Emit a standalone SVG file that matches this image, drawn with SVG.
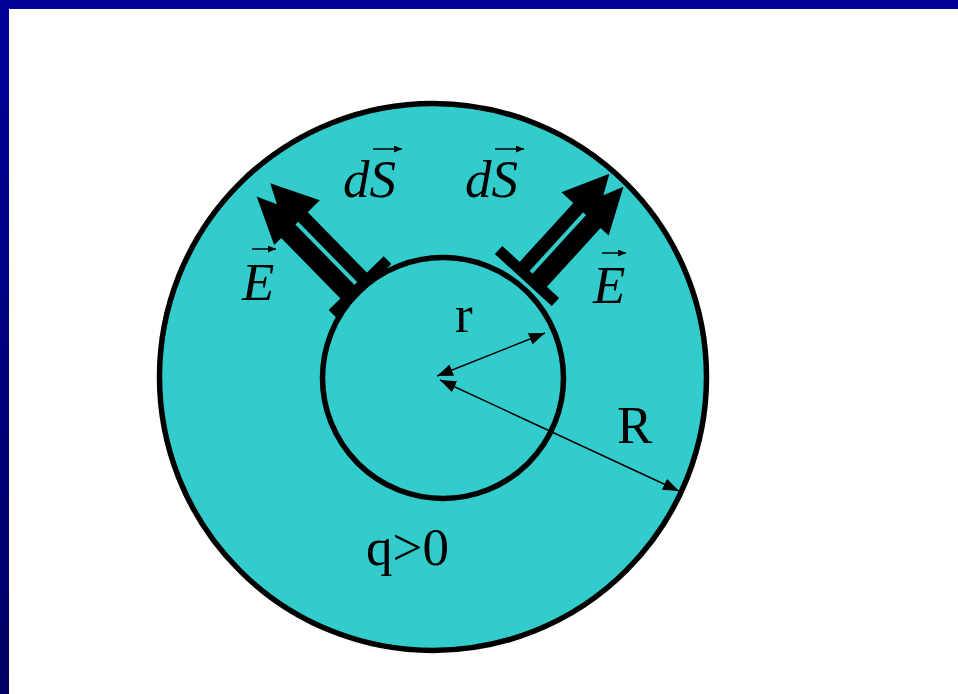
<svg xmlns="http://www.w3.org/2000/svg" width="958" height="694" viewBox="0 0 958 694">
<style>
.fill{fill:#33cccc;stroke:#000;stroke-width:5.5}
.blk{fill:#000;stroke:none}
.lbl{font-family:"Liberation Serif","Times New Roman",serif;font-size:53px;fill:#000}
.it{font-style:italic}
.rad{stroke:#000;stroke-width:1.5;fill:none;marker-start:url(#ah);marker-end:url(#ah)}
.vec{stroke:#000;stroke-width:1.5}
</style>
<defs>
<linearGradient id="lg" x1="0" y1="0" x2="0" y2="1">
<stop offset="0" stop-color="#000099"/>
<stop offset="1" stop-color="#000066"/>
</linearGradient>
<marker id="ah" markerUnits="userSpaceOnUse" markerWidth="18" markerHeight="12" refX="16" refY="6" orient="auto-start-reverse" viewBox="0 0 18 12">
<path d="M0,0 L16,6 L0,12 Z" fill="#000"/>
</marker>
<marker id="vh" markerUnits="userSpaceOnUse" markerWidth="9" markerHeight="7" refX="8" refY="3.5" orient="auto" viewBox="0 0 9 7">
<path d="M0,0 L8,3.5 L0,7 Z" fill="#000"/>
</marker>
</defs>
<rect x="0" y="0" width="958" height="694" fill="#fff"/>
<rect x="0" y="0" width="958" height="9" fill="#000099"/>
<rect x="0" y="0" width="9" height="694" fill="url(#lg)"/>

<g id="outer-sphere">
<circle class="fill" cx="433" cy="377" r="273.5"/>
</g>
<g id="gauss-surface">
<circle class="fill" cx="443" cy="378" r="120.5"/>
</g>

<g id="connectors">
<line class="rad" x1="437" y1="376" x2="545" y2="333"/>
<line class="rad" x1="440" y1="380" x2="679" y2="491"/>
</g>

<g id="arrow-left" transform="translate(360,287) rotate(-134.4) scale(1,-1)">
<rect class="blk" x="-5.5" y="-38.5" width="11" height="77"/>
<rect class="blk" x="0" y="-15" width="92" height="13.5"/>
<rect class="blk" x="0" y="2.5" width="92" height="19.5"/>
<polygon class="blk" points="90,-32 137,-8.5 90,15"/>
<polygon class="blk" points="90,-11 137,10.5 90,32"/>
</g>
<g id="arrow-right" transform="translate(527,276) rotate(-47.6)">
<rect class="blk" x="-5.5" y="-38.5" width="11" height="77"/>
<rect class="blk" x="0" y="-15" width="88" height="13.5"/>
<rect class="blk" x="0" y="2.5" width="88" height="19.5"/>
<polygon class="blk" points="85,-31 131,-8 85,15"/>
<polygon class="blk" points="85,-10 131,11 85,33"/>
</g>

<g id="labels">
<text class="lbl it" x="343" y="197">dS</text>
<line class="vec" x1="373" y1="149" x2="402" y2="149" marker-end="url(#vh)"/>
<text class="lbl it" x="465" y="197">dS</text>
<line class="vec" x1="495" y1="149" x2="524" y2="149" marker-end="url(#vh)"/>
<text class="lbl it" x="242" y="300">E</text>
<line class="vec" x1="252" y1="249" x2="276" y2="249" marker-end="url(#vh)"/>
<text class="lbl it" x="593" y="303">E</text>
<line class="vec" x1="602" y1="253" x2="626" y2="253" marker-end="url(#vh)"/>
<text class="lbl" x="455" y="332">r</text>
<text class="lbl" x="617" y="443">R</text>
<text class="lbl" x="366" y="565">q&gt;0</text>
</g>
</svg>
